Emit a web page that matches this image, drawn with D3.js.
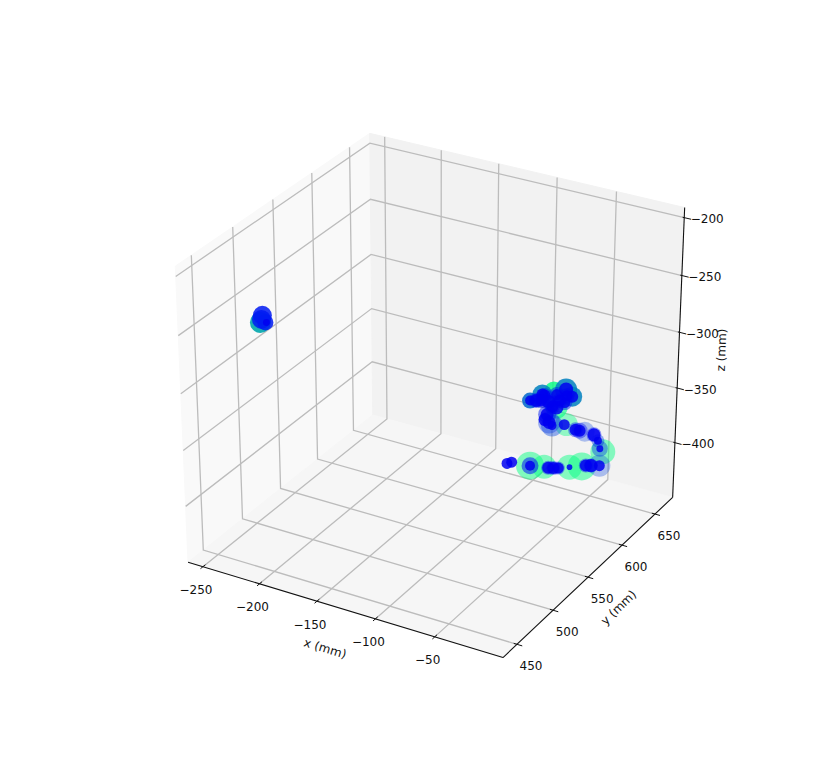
<!DOCTYPE html>
<html lang="en">
<head>
  <meta charset="UTF-8">
  <title>3D trajectory scatter</title>
  <script src="https://d3js.org/d3.v7.min.js"></script>
  <style>
    body { margin: 0; background: white; }
    text { font-family: 'DejaVu Sans', sans-serif; font-size: 12px; fill: #111; }
  </style>
</head>
<body>
  <svg width="831" height="780"></svg>

  <script>
    // Axis ranges and ticks
    const xLimits = [-263.3, 6.5];
    const yLimits = [431, 677.4];
    const zLimits = [-451, -191.4];
    const xTicks = [-250, -200, -150, -100, -50];
    const yTicks = [450, 500, 550, 600, 650];
    const zTicks = [-400, -350, -300, -250, -200];

    // The points: position in mm, marker areas, halo colour position and opacity
    const pointX = [-251, -249.1, -250, -246.6, -245.7,
      -110.1, -106, -89.9, -89.9, -77.6, -74.1, -69.7, -65.3, -55.7, -45.2, -41.7, -37.3, -30.2,
      -27.6, -30.2, -32, -35.5, -43.4, -47.8, -51.3, -59.2, -61, -71.5, -74.1, -77.6, -75.9, -68,
      -60.1, -54.8, -80.3, -90.8, -85.5, -78.5, -75, -65.3, -70.6, -81.1, -71.5, -61, -59.2, -68];
    const pointY = [513, 513, 513, 513, 513,
      628, 628, 628, 628, 628, 628, 628, 628, 628, 628, 628, 628, 628,
      628, 628, 628, 628, 628, 628, 628, 628, 628, 628, 628, 628, 628, 628,
      628, 628, 628, 628, 628, 628, 628, 628, 628, 628, 628, 628, 628, 628];
    const pointZ = [-276.8, -270.1, -273.9, -275.6, -275.4,
      -425.9, -423.6, -422.1, -422.1, -419.6, -419.5, -418.3, -417.1, -413.5, -409.7, -407.8, -406.6, -404.6,
      -391.1, -389.1, -382.4, -377.9, -377.4, -377.7, -377.8, -375.4, -375.9, -379.7, -377.7, -376, -370.9, -362.4,
      -343.8, -348.8, -354, -362.4, -360.9, -354.4, -358.9, -355.3, -347.6, -359.7, -362.5, -355.9, -349.1, -350.6];
    const coreSize = [0, 0, 0, 0, 12,
      30, 30, 25, 0, 0, 36, 36, 30, 8, 0, 36, 42, 30,
      0, 12, 16, 42, 0, 36, 36, 0, 30, 20, 42, 42, 42, 49,
      49, 36, 36, 25, 42, 36, 42, 36, 0, 36, 36, 30, 30, 30];
    const haloSize = [110, 90, 90, 64, 0,
      0, 0, 196, 72, 144, 49, 49, 42, 156, 196, 50, 50, 121,
      156, 64, 42, 56, 100, 64, 56, 132, 0, 121, 121, 0, 81, 121,
      121, 100, 100, 64, 56, 56, 56, 56, 81, 56, 56, 56, 56, 56];
    const haloTone = [0.65, 0.1, 0.1, 0.1, 0,
      0, 0, 1, 0.08, 1, 0.05, 0.05, 0.05, 1, 1, 0.05, 0.05, 0.25,
      1, 0.2, 0.2, 0.05, 0.25, 0.05, 0.05, 1, 0, 0.25, 0.2, 0, 0.1, 1,
      0.5, 0.5, 0.5, 0.4, 0.1, 0.1, 0.1, 0.1, 1, 0.1, 0.1, 0.1, 0.1, 0.1];
    const haloShade = [0.9, 0.85, 0.85, 0.85, 0,
      0, 0, 0.48, 0.55, 0.46, 0.4, 0.4, 0.4, 0.46, 0.48, 0.4, 0.4, 0.3,
      0.46, 0.4, 0.4, 0.4, 0.3, 0.4, 0.4, 0.4, 0, 0.4, 0.35, 0, 0.5, 0.6,
      0.85, 0.85, 0.85, 0.85, 0.5, 0.5, 0.5, 0.5, 0.8, 0.5, 0.5, 0.5, 0.5, 0.5];

    const points = pointX.map((x, i) => ({
      x: x, y: pointY[i], z: pointZ[i],
      core: coreSize[i], halo: haloSize[i], tone: haloTone[i], shade: haloShade[i]
    }));

    const svg = d3.select("svg");

    // Scales: data to a unit cube centred on 0, projected cube to screen
    const xs = d3.scaleLinear().domain(xLimits).range([-0.5, 0.5]);
    const ys = d3.scaleLinear().domain(yLimits).range([-0.5, 0.5]);
    const zs = d3.scaleLinear().domain(zLimits).range([-0.5, 0.5]);
    const screenX = d3.scaleLinear().domain([-1, 1]).range([434.1 - 3635, 434.1 + 3635]);
    const screenY = d3.scaleLinear().domain([-1, 1]).range([386.5 + 3380, 386.5 - 3380]);
    const radius = d3.scaleSqrt().domain([0, 100]).range([0, 10]);
    const winter = d3.scaleLinear().domain([0, 1]).range(["#0000ff", "#00ff80"]);

    // View: elev 30, azim -60, eye at distance 10
    const elev = 30 * Math.PI / 180, azim = -60 * Math.PI / 180, dist = 10;
    const w = [Math.cos(elev) * Math.cos(azim), Math.cos(elev) * Math.sin(azim), Math.sin(elev)];
    const u = [-Math.sin(azim), Math.cos(azim), 0];
    const v = [w[1] * u[2] - w[2] * u[1], w[2] * u[0] - w[0] * u[2], w[0] * u[1] - w[1] * u[0]];
    const dot = (a, b) => a[0] * b[0] + a[1] * b[1] + a[2] * b[2];

    function project(x, y, z) {
      const p = [xs(x), ys(y), zs(z)];
      const d = dist - dot(w, p);
      return [screenX(dot(u, p) / d), screenY(dot(v, p) / d)];
    }

    const line = d3.line();
    const [x0, x1] = xLimits, [y0, y1] = yLimits, [z0, z1] = zLimits;
    const xSpan = x1 - x0, ySpan = y1 - y0;

    // Panes
    const panes = [
      { fill: "#f9f9f9", corners: [[x0, y0, z0], [x0, y1, z0], [x0, y1, z1], [x0, y0, z1]] },
      { fill: "#f2f2f2", corners: [[x0, y1, z0], [x1, y1, z0], [x1, y1, z1], [x0, y1, z1]] },
      { fill: "#f6f6f6", corners: [[x0, y0, z0], [x1, y0, z0], [x1, y1, z0], [x0, y1, z0]] }
    ];
    svg.append("g").selectAll("path")
      .data(panes)
      .enter().append("path")
      .attr("d", d => line(d.corners.map(c => project(...c))) + "Z")
      .attr("fill", d => d.fill)
      .attr("stroke", d => d.fill);

    // Grid lines, each one bent across two panes
    const gridLines = [
      ...xTicks.map(t => [[t, y0, z0], [t, y1, z0], [t, y1, z1]]),
      ...yTicks.map(t => [[x1, t, z0], [x0, t, z0], [x0, t, z1]]),
      ...zTicks.map(t => [[x1, y1, t], [x0, y1, t], [x0, y0, t]])
    ];
    svg.append("g").selectAll("path")
      .data(gridLines)
      .enter().append("path")
      .attr("d", d => line(d.map(c => project(...c))))
      .attr("fill", "none")
      .attr("stroke", "#bcbcbc")
      .attr("stroke-width", 1.3);

    // Axis lines
    const axisLines = [
      [[x0, y0, z0], [x1, y0, z0]],
      [[x1, y0, z0], [x1, y1, z0]],
      [[x1, y1, z0], [x1, y1, z1]]
    ];
    svg.append("g").selectAll("path")
      .data(axisLines)
      .enter().append("path")
      .attr("d", d => line(d.map(c => project(...c))))
      .attr("fill", "none")
      .attr("stroke", "#111")
      .attr("stroke-width", 1.1);

    // Tick marks
    const tickMarks = [
      ...xTicks.map(t => [[t, y0 + ySpan * 0.0125, z0], [t, y0 - ySpan * 0.0125, z0]]),
      ...yTicks.map(t => [[x1 - xSpan * 0.01, t, z0], [x1 + xSpan * 0.016, t, z0]]),
      ...zTicks.map(t => [[x1 - xSpan * 0.005, y1, t], [x1 + xSpan * 0.021, y1, t]])
    ];
    svg.append("g").selectAll("path")
      .data(tickMarks)
      .enter().append("path")
      .attr("d", d => line(d.map(c => project(...c))))
      .attr("stroke", "#111")
      .attr("stroke-width", 1);

    // Tick labels
    const fmt = d3.format("d");
    const tickLabels = [
      ...xTicks.map(t => ({ t: t, pos: project(t, y0, z0), dx: -7, dy: 24 })),
      ...yTicks.map(t => ({ t: t, pos: project(x1, t, z0), dx: 14, dy: 22 })),
      ...zTicks.map(t => ({ t: t, pos: project(x1, y1, t), dx: 23, dy: 2 }))
    ];
    svg.append("g").selectAll("text")
      .data(tickLabels)
      .enter().append("text")
      .attr("x", d => d.pos[0] + d.dx)
      .attr("y", d => d.pos[1] + d.dy)
      .attr("text-anchor", "middle")
      .attr("dominant-baseline", "middle")
      .text(d => fmt(d.t));

    // Axis titles
    const titles = [
      { label: "x (mm)", at: [325, 649], angle: 17 },
      { label: "y (mm)", at: [619, 608], angle: -44 },
      { label: "z (mm)", at: [722, 350], angle: -88 }
    ];
    svg.append("g").selectAll("text")
      .data(titles)
      .enter().append("text")
      .attr("transform", d => "translate(" + d.at + ") rotate(" + d.angle + ")")
      .attr("text-anchor", "middle")
      .attr("dominant-baseline", "middle")
      .text(d => d.label);

    // Halos first with the green ones lowest, blue cores on top
    svg.append("g").selectAll("circle")
      .data(points.filter(d => d.halo > 0).sort((a, b) => b.tone - a.tone))
      .enter().append("circle")
      .attr("cx", d => project(d.x, d.y, d.z)[0])
      .attr("cy", d => project(d.x, d.y, d.z)[1])
      .attr("r", d => radius(d.halo))
      .attr("fill", d => winter(d.tone))
      .attr("fill-opacity", d => d.shade);

    svg.append("g").selectAll("circle")
      .data(points.filter(d => d.core > 0))
      .enter().append("circle")
      .attr("cx", d => project(d.x, d.y, d.z)[0])
      .attr("cy", d => project(d.x, d.y, d.z)[1])
      .attr("r", d => radius(d.core))
      .attr("fill", "#0000f0")
      .attr("fill-opacity", 0.85);
  </script>
</body>
</html>
